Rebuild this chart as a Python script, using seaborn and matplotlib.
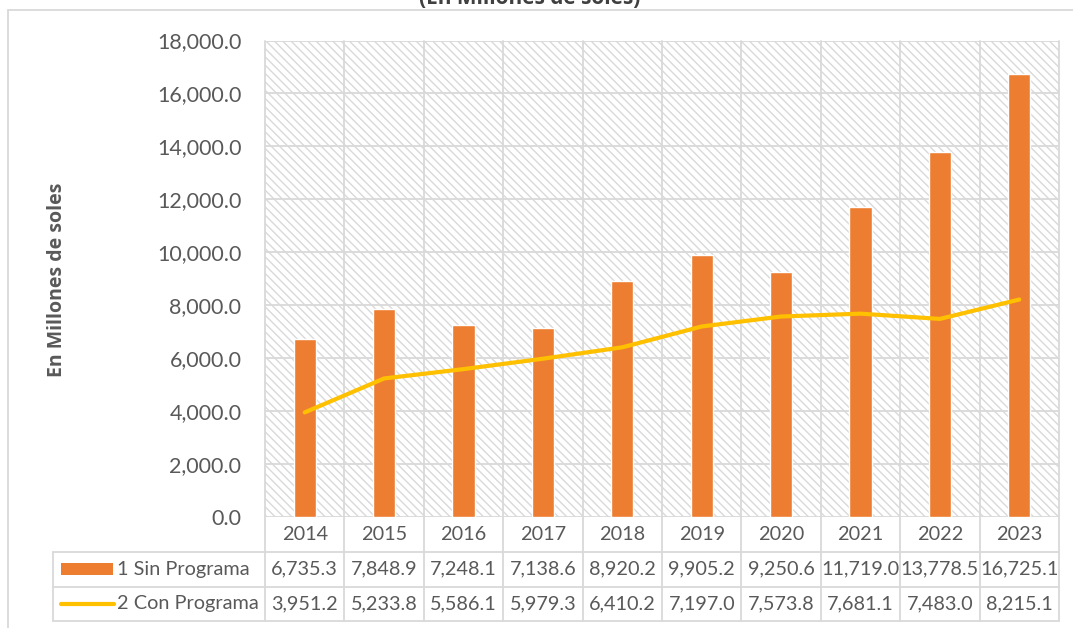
import matplotlib
matplotlib.use("Agg")
import matplotlib.pyplot as plt
import seaborn as sns
import numpy as np
import pandas as pd
from matplotlib.patches import Rectangle
from matplotlib.lines import Line2D
import matplotlib.transforms as mtransforms

years = ["2014", "2015", "2016", "2017", "2018", "2019", "2020", "2021", "2022", "2023"]
sin_programa = [6735.3, 7848.9, 7248.1, 7138.6, 8920.2, 9905.2, 9250.6, 11719.0, 13778.5, 16725.1]
con_programa = [3951.2, 5233.8, 5586.1, 5979.3, 6410.2, 7197.0, 7573.8, 7681.1, 7483.0, 8215.1]
series_names = ["1 Sin Programa", "2 Con Programa"]
title = "(En Millones de soles)"
ylabel = "En Millones de soles"
yticks = [0, 2000, 4000, 6000, 8000, 10000, 12000, 14000, 16000, 18000]

sns.set_theme(style="white")
plt.rcParams['font.family'] = ['Lato', 'DejaVu Sans']
plt.rcParams['hatch.color'] = '#d9d9d9'
plt.rcParams['hatch.linewidth'] = 1.0

ORANGE = "#ED7D31"
YELLOW = "#FFC000"
GRID = "#d9d9d9"
TXT = "#595959"
FS = 14.3

W, H = 1073, 628
fig = plt.figure(figsize=(W / 100, H / 100), dpi=100)
L, R, T, B = 265, 1059, 40.5, 517
ax = fig.add_axes([L / W, 1 - B / H, (R - L) / W, (B - T) / H])

df = pd.DataFrame({"year": years, "sin": sin_programa, "con": con_programa})

# hatched background
ax.add_patch(Rectangle((0, 0), 1, 1, transform=ax.transAxes, facecolor="white",
                       edgecolor="#d9d9d9", linewidth=0, hatch="\\\\\\\\", zorder=0))

sns.barplot(data=df, x="year", y="sin", color=ORANGE, width=0.28, ax=ax,
            saturation=1, zorder=3)
sns.lineplot(x=np.arange(len(years)), y=con_programa, color=YELLOW, linewidth=3,
             ax=ax, zorder=4, solid_capstyle="round")

ax.set_xlim(-0.5, len(years) - 0.5)
ax.set_ylim(0, 18000)
ax.set_yticks(yticks)
ax.set_yticklabels([f"{v:,.1f}" for v in yticks], fontsize=15.5, color=TXT)
ax.tick_params(axis="y", length=0, pad=17)
ax.set_xticks([])
ax.set_xlabel("")
ax.set_ylabel("")
for s in ax.spines.values():
    s.set_visible(False)

# horizontal gridlines
for v in yticks:
    ax.axhline(v, color=GRID, lw=1.3, zorder=1)

# table geometry (pixels -> axes fraction)
def ay(py):
    return (B - py) / (B - T)

row_lines = [517, 552, 586.5, 621]
trans = mtransforms.blended_transform_factory(ax.transData, ax.transAxes)

# vertical lines at category boundaries, extending into the table
for i in range(len(years) + 1):
    ax.add_line(Line2D([i - 0.5, i - 0.5], [1, ay(row_lines[-1])], transform=trans,
                       color=GRID, lw=1.3, clip_on=False, zorder=1))
x_left = 53
def ax_x(px):
    return (px - L) / (R - L)
ax.add_line(Line2D([ax_x(x_left), ax_x(x_left)], [ay(row_lines[1]), ay(row_lines[-1])],
                   transform=ax.transAxes, color=GRID, lw=1.3, clip_on=False))
for py in row_lines[1:]:
    ax.add_line(Line2D([ax_x(x_left), 1], [ay(py), ay(py)], transform=ax.transAxes,
                       color=GRID, lw=1.3, clip_on=False))

# year row
for i, y in enumerate(years):
    ax.text(i, ay((row_lines[0] + row_lines[1]) / 2), y, transform=trans, ha="center",
            va="center", fontsize=FS, color=TXT)
# value rows
for r, vals in enumerate([sin_programa, con_programa]):
    yc = ay((row_lines[r + 1] + row_lines[r + 2]) / 2)
    for i, v in enumerate(vals):
        ax.text(i, yc, f"{v:,.1f}", transform=trans, ha="center", va="center",
                fontsize=FS, color=TXT)
    ax.text(ax_x(117), yc, series_names[r], transform=ax.transAxes, ha="left",
            va="center", fontsize=FS, color=TXT)

# legend keys
yc1 = ay((row_lines[1] + row_lines[2]) / 2)
ax.add_patch(Rectangle((ax_x(61), yc1 - 6 / (B - T)), (113 - 61) / (R - L), 12 / (B - T),
                       transform=ax.transAxes, facecolor=ORANGE, edgecolor="none",
                       clip_on=False))
yc2 = ay((row_lines[2] + row_lines[3]) / 2)
ax.add_line(Line2D([ax_x(61), ax_x(114)], [yc2, yc2], transform=ax.transAxes,
                   color=YELLOW, lw=3, solid_capstyle="round", clip_on=False))

# y label
fig.text(57 / W, 1 - 280 / H, ylabel, rotation=90, ha="center", va="center",
         fontsize=14, fontweight="bold", color=TXT, family=["Open Sans", "DejaVu Sans"])

# title (partially cut at top, as in the reference)
fig.text(530 / W, 1 - 4 / H, title, ha="center", va="baseline", fontsize=15,
         fontweight="bold", color="#404040", family=["Open Sans", "DejaVu Sans"])

# outer frame
fig.add_artist(Line2D([8 / W, 1], [1 - 10 / H, 1 - 10 / H], transform=fig.transFigure,
                      color=GRID, lw=1.3))
fig.add_artist(Line2D([8 / W, 8 / W], [0, 1 - 10 / H], transform=fig.transFigure,
                      color=GRID, lw=1.3))

fig.savefig("out.png", dpi=100, facecolor="white")
